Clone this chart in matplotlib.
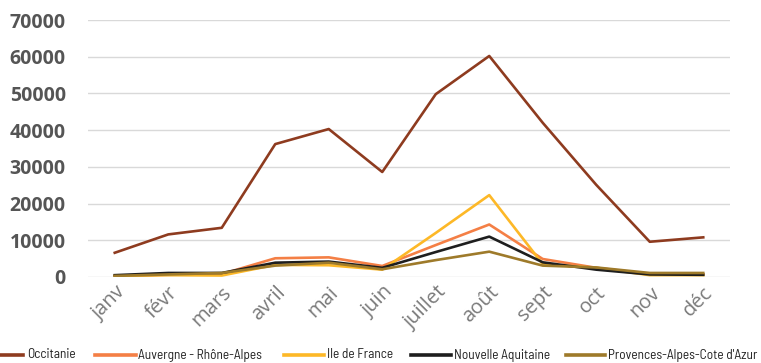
import matplotlib
matplotlib.use("Agg")
import matplotlib.pyplot as plt
from matplotlib import font_manager as fm
from matplotlib.lines import Line2D

months = ["janv", "févr", "mars", "avril", "mai", "juin", "juillet", "août", "sept", "oct", "nov", "déc"]
occitanie = [6600, 11600, 13400, 36200, 40300, 28600, 49800, 60200, 42000, 25100, 9600, 10800]
auvergne = [300, 600, 800, 5100, 5350, 3000, 8700, 14300, 4900, 2500, 800, 700]
ile_de_france = [300, 500, 400, 3300, 3200, 2000, 12000, 22300, 3500, 2500, 500, 500]
nouvelle_aquitaine = [500, 1100, 1100, 3900, 4200, 2500, 6800, 11000, 4000, 2000, 700, 600]
provences = [300, 700, 1100, 3100, 3900, 2100, 4600, 6900, 3100, 2600, 1100, 1100]
yticks = [0, 10000, 20000, 30000, 40000, 50000, 60000, 70000]

series = [
    ("Occitanie", occitanie, "#8E3B1F"),
    ("Auvergne - Rhône-Alpes", auvergne, "#F47F45"),
    ("Ile de France", ile_de_france, "#FDB827"),
    ("Nouvelle Aquitaine", nouvelle_aquitaine, "#1E1E1E"),
    ("Provences-Alpes-Cote d'Azur", provences, "#9E7A2A"),
]

available = {f.name for f in fm.fontManager.ttflist}
cond = "DejaVu Sans"
for cand in ["Barlow Semi Condensed", "Roboto Condensed", "Fira Sans Condensed",
             "Encode Sans Condensed", "Open Sans Condensed", "PT Sans Narrow",
             "Liberation Sans Narrow", "Arimo"]:
    if cand in available:
        cond = cand
        break

W, H = 761, 363
fig = plt.figure(figsize=(W / 100, H / 100), dpi=100)
ax = fig.add_axes([88 / W, 1 - 277 / H, (730 - 88) / W, (277 - 20) / H])
x = list(range(len(months)))
for name, vals, col in series:
    ax.plot(x, vals, color=col, linewidth=1.9, label=name)

ax.set_xlim(-0.5, len(months) - 0.5)
ax.set_ylim(0, 70000)
ax.set_yticks(yticks)
ax.set_yticklabels([str(v) for v in yticks], fontsize=14, fontweight="bold",
                   color="#555555", family=["Open Sans", "DejaVu Sans"])
ax.set_xticks(x)
ax.set_xticklabels(months, rotation=45, ha="right", rotation_mode="anchor",
                   fontsize=14.5, color="#7a7a7a", family=["Open Sans", "DejaVu Sans"])
ax.grid(axis="y", color="#d9d9d9", linewidth=1)
ax.set_axisbelow(True)
for s in ax.spines.values():
    s.set_visible(False)
ax.tick_params(axis="y", length=0, pad=16)
ax.tick_params(axis="x", length=0, pad=4)

# manual legend at the reference's pixel positions
line_spans = [(0, 23), (95, 136), (284, 324), (411, 451), (566, 605)]
text_x = [27, 138, 327, 454, 608]
legend_y = 1 - 355 / H
renderer = fig.canvas.get_renderer()
probe = fig.text(0, 0, series[1][0], fontsize=10, family=[cond, "DejaVu Sans"])
w1 = probe.get_window_extent(renderer).width
probe.set_text(series[4][0])
w4 = probe.get_window_extent(renderer).width
probe.remove()
fsize = min(12, 10 * 130 / w1, 10 * 150 / w4)
for (name, _, col), (x0, x1), tx in zip(series, line_spans, text_x):
    fig.add_artist(Line2D([x0 / W, x1 / W], [legend_y, legend_y], color=col,
                          linewidth=2.6, transform=fig.transFigure))
    fig.text(tx / W, legend_y, name, fontsize=fsize, color="#222222",
             va="center", ha="left", family=[cond, "DejaVu Sans"])

fig.savefig("out.png", dpi=100)
